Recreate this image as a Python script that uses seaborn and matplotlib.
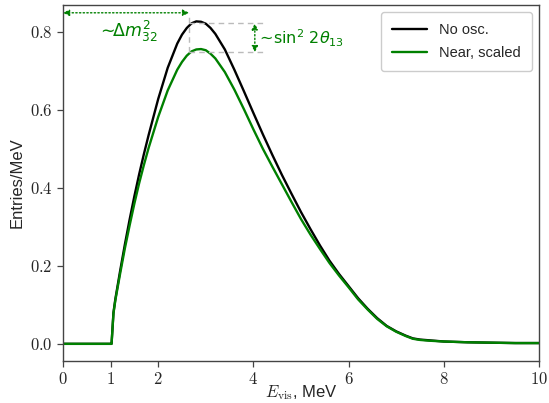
import matplotlib
matplotlib.use("Agg")
import matplotlib.pyplot as plt
import matplotlib.ticker as mticker
import seaborn as sns
import pandas as pd

# ---- data ----
energy = [0.0, 0.5, 1.0, 1.02, 1.06, 1.1, 1.2, 1.3, 1.4, 1.5, 1.6, 1.7, 1.8,
          2.0, 2.2, 2.4, 2.5, 2.6, 2.7, 2.8, 2.9, 3.0, 3.1, 3.2, 3.4, 3.6,
          3.8, 4.0, 4.2, 4.4, 4.6, 4.8, 5.0, 5.2, 5.4, 5.6, 5.8, 6.0, 6.2,
          6.4, 6.6, 6.8, 7.0, 7.2, 7.35, 7.5, 7.7, 8.0, 8.5, 9.0, 9.5, 10.0]
no_osc = [0.0, 0.0, 0.0, 0.0, 0.08, 0.115, 0.187, 0.255, 0.319, 0.379, 0.435,
          0.487, 0.536, 0.628, 0.708, 0.77, 0.793, 0.81, 0.822, 0.827, 0.826,
          0.821, 0.81, 0.795, 0.755, 0.703, 0.648, 0.592, 0.537, 0.484, 0.433,
          0.385, 0.338, 0.294, 0.252, 0.213, 0.179, 0.148, 0.117, 0.09, 0.066,
          0.046, 0.032, 0.021, 0.014, 0.011, 0.009, 0.006, 0.004, 0.003,
          0.002, 0.002]
near_scaled = [0.0, 0.0, 0.0, 0.0, 0.078, 0.112, 0.18, 0.245, 0.304, 0.36,
               0.412, 0.459, 0.503, 0.582, 0.65, 0.703, 0.723, 0.739, 0.75,
               0.755, 0.756, 0.753, 0.744, 0.732, 0.697, 0.652, 0.602, 0.55,
               0.50, 0.454, 0.409, 0.364, 0.32, 0.28, 0.243, 0.207, 0.175,
               0.145, 0.114, 0.088, 0.064, 0.045, 0.031, 0.020, 0.013, 0.010,
               0.008, 0.006, 0.004, 0.003, 0.002, 0.002]
labels = ["No osc.", "Near, scaled"]
x_ticks = [0, 1, 2, 4, 6, 8, 10]
y_ticks = [0.0, 0.2, 0.4, 0.6, 0.8]

sns.set_style("ticks")
plt.rcParams["font.family"] = ["Liberation Sans", "DejaVu Sans"]
plt.rcParams["mathtext.fontset"] = "cm"

df = pd.concat([
    pd.DataFrame({"E": energy, "y": no_osc, "series": labels[0]}),
    pd.DataFrame({"E": energy, "y": near_scaled, "series": labels[1]}),
])

fig = plt.figure(figsize=(5.49, 4.03), dpi=100)
ax = fig.add_axes([63 / 549, 1 - 361 / 403, 476 / 549, 356 / 403])

sns.lineplot(data=df, x="E", y="y", hue="series", hue_order=labels,
             palette=["black", "green"], linewidth=1.7, ax=ax, sort=False,
             estimator=None)

ax.set_xlim(0, 10)
ax.set_ylim(-0.044, 0.869)
ax.set_xticks(x_ticks)
ax.set_yticks(y_ticks)
ax.xaxis.set_major_formatter(mticker.FuncFormatter(lambda v, p: f"${v:.0f}$"))
ax.yaxis.set_major_formatter(mticker.FuncFormatter(lambda v, p: f"${v:.1f}$"))
ax.tick_params(labelsize=12, length=4, width=0.9, color="#444444")
for s in ax.spines.values():
    s.set_visible(True)
    s.set_color("#444444")
    s.set_linewidth(1.0)

ax.set_xlabel(r"$E_{\rm vis}$, MeV", fontsize=12, labelpad=-3)
ax.set_ylabel("Entries/MeV", fontsize=12, labelpad=4)

leg = ax.legend(loc="upper right", fontsize=10.5, handlelength=2.4,
                frameon=True, fancybox=True, edgecolor="#cccccc",
                framealpha=1.0, borderpad=0.75, labelspacing=0.6)
leg.set_title(None)
for line in leg.get_lines():
    line.set_linewidth(1.7)

# annotations
peak_hi = 0.822
peak_lo = 0.748
x_peak = 2.65
y_arrow = 0.849
ax.plot([x_peak, x_peak], [peak_lo, y_arrow], ls=(0, (4, 3)), color="#bbbbbb", lw=1)
ax.plot([x_peak, 4.25], [peak_hi, peak_hi], ls=(0, (4, 3)), color="#bbbbbb", lw=1)
ax.plot([x_peak, 4.25], [peak_lo, peak_lo], ls=(0, (4, 3)), color="#bbbbbb", lw=1)

ax.annotate("", xy=(0.0, y_arrow), xytext=(x_peak, y_arrow),
            arrowprops=dict(arrowstyle="<|-|>", ls=":", color="green", lw=1,
                            mutation_scale=9, shrinkA=0, shrinkB=0))
ax.annotate("", xy=(4.03, peak_hi), xytext=(4.03, peak_lo),
            arrowprops=dict(arrowstyle="<|-|>", ls=":", color="green", lw=1,
                            mutation_scale=9, shrinkA=0, shrinkB=0))
ax.text(0.72, 0.80, r"$\sim\!\!\Delta m^2_{32}$", color="green", fontsize=12.5,
        va="center", ha="left", math_fontfamily="dejavusans")
ax.text(4.06, 0.783, r"$\sim\!\mathrm{sin}^2\ 2\theta_{13}$", color="green",
        fontsize=11.5, va="center", ha="left", math_fontfamily="dejavusans")

fig.savefig("out.png", dpi=100)
